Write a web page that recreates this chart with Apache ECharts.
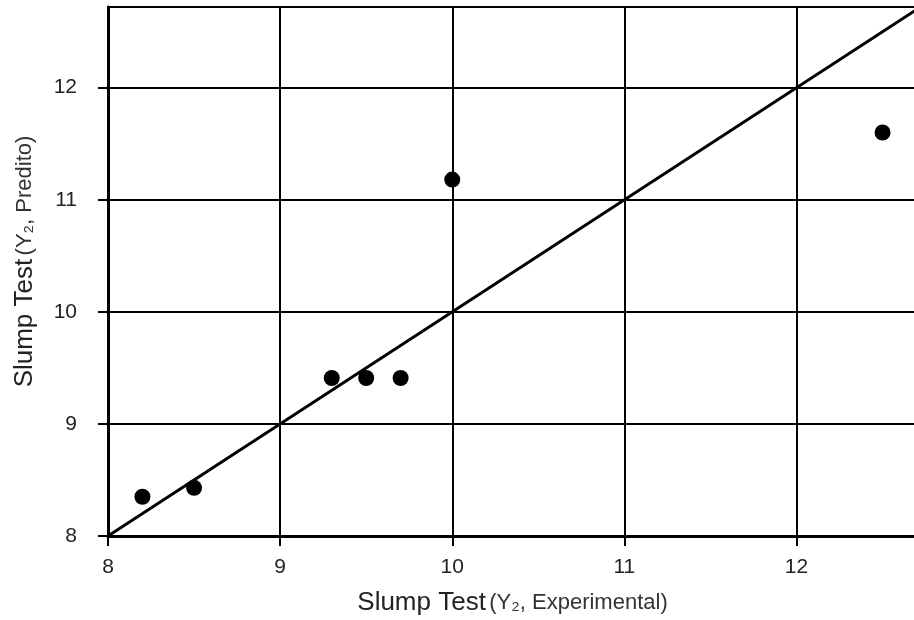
<!DOCTYPE html>
<html><head><meta charset="utf-8">
<script src="https://cdn.jsdelivr.net/npm/echarts@6/dist/echarts.min.js"></script>
<style>html,body{margin:0;padding:0;background:#fff}#c{width:914px;height:620px}</style>
</head><body><div id="c"></div>
<script>
const xTicks = [8, 9, 10, 11, 12];
const yTicks = [8, 9, 10, 11, 12];
const experimental = [8.2, 8.5, 9.3, 9.5, 9.7, 10.0, 12.5];
const predicted = [8.35, 8.43, 9.41, 9.41, 9.41, 11.18, 11.6];
const identityLine = [[8, 8], [12.7, 12.7]];

const chart = echarts.init(document.getElementById('c'));
const F = 'Liberation Sans, Arial, sans-serif';
chart.setOption({
  animation: false,
  grid: { left: 108, right: -3, top: 7, bottom: 84, outerBoundsMode: 'none', containLabel: false, show: true, borderColor: '#000', borderWidth: 2, backgroundColor: '#fff' },
  xAxis: {
    type: 'value', min: 8, max: 12.7, interval: 1,
    axisLine: { show: true, lineStyle: { color: '#000', width: 3 } },
    axisTick: { show: true, length: 10, lineStyle: { color: '#000', width: 2 }, customValues: xTicks },
    axisLabel: { color: '#222', fontSize: 21, fontFamily: F, margin: 21, customValues: xTicks },
    splitLine: { show: true, lineStyle: { color: '#000', width: 2 } },
    name: '{a|Slump Test} {b|(Y₂, Experimental)}',
    nameLocation: 'middle', nameGap: 54,
    nameTextStyle: { rich: { a: { fontSize: 26, fontFamily: F, color: '#222' }, b: { fontSize: 22, fontFamily: F, color: '#333' } } }
  },
  yAxis: {
    type: 'value', min: 8, max: 12.72, interval: 1,
    axisLine: { show: true, lineStyle: { color: '#000', width: 3 } },
    axisTick: { show: true, length: 10, lineStyle: { color: '#000', width: 2 }, customValues: yTicks },
    axisLabel: { color: '#222', fontSize: 21, fontFamily: F, margin: 31, customValues: yTicks },
    splitLine: { show: true, lineStyle: { color: '#000', width: 2 } },
    name: '{a|Slump Test} {b|(Y₂, Predito)}',
    nameLocation: 'middle', nameGap: 70, nameRotate: 90,
    nameTextStyle: { padding: [0, 0, 0, 20], rich: { a: { fontSize: 26, fontFamily: F, color: '#222' }, b: { fontSize: 22, fontFamily: F, color: '#333' } } }
  },
  series: [
    { type: 'line', data: identityLine, symbol: 'none', lineStyle: { color: '#000', width: 3 }, z: 3 },
    { type: 'scatter', data: experimental.map((x, i) => [x, predicted[i]]), symbolSize: 16, itemStyle: { color: '#000', opacity: 1 }, z: 4 }
  ]
});
</script></body></html>
